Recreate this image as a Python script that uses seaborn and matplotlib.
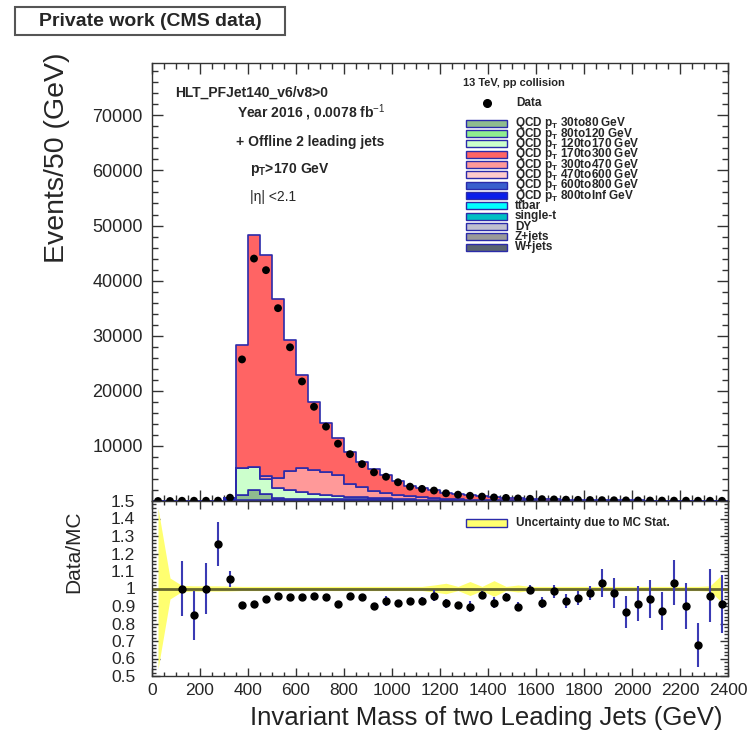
import matplotlib
matplotlib.use('Agg')

import numpy as np
import pandas as pd
import matplotlib.pyplot as plt
from matplotlib.patches import Rectangle
from matplotlib.lines import Line2D
from matplotlib.ticker import MultipleLocator, FuncFormatter
import seaborn as sns

# binning: 50 GeV bins from 0 to 2400
edges = np.arange(0, 2450, 50)
centers = edges[:-1] + 25

data = [0, 0, 45, 50, 48, 65, 600, 25700, 44000, 41900, 35000, 27900, 21700, 17100,
        13500, 10400, 8500, 6700, 5200, 4400, 3400, 2600, 2200, 1900, 1400, 1150, 950,
        800, 650, 560, 470, 400, 340, 290, 245, 210, 180, 155, 135, 115, 100, 85, 75,
        65, 58, 50, 44, 38]

qcd_170to300 = [15, 25, 45, 59, 48, 52, 0, 22300, 42000, 40100, 32400, 23900, 16900,
                12200, 8900, 6700, 5850, 4430, 4000, 3340, 2620, 1950, 1720, 1480, 1130,
                970, 810, 630, 530, 440, 390, 290, 290, 225, 204, 172, 140, 110, 103,
                103, 83, 66, 66, 45, 49, 61, 35, 32]
qcd_300to470 = [0, 0, 0, 0, 0, 0, 0, 0, 0, 500, 1800, 3400, 4300, 4500, 4300, 3800, 2200,
                1900, 1200, 900, 700, 550, 400, 300, 220, 150, 100, 70, 50, 40, 30, 20,
                0, 0, 0, 0, 0, 0, 0, 0, 0, 0, 0, 0, 0, 0, 0, 0]
qcd_120to170 = [0, 0, 0, 0, 0, 0, 0, 4900, 4200, 2800, 1900, 1700, 1300, 900, 700, 600,
                500, 400, 300, 200, 150, 100, 50, 0, 0, 0, 0, 0, 0, 0, 0, 0, 0, 0, 0, 0,
                0, 0, 0, 0, 0, 0, 0, 0, 0, 0, 0, 0]
qcd_30to80 = [0, 0, 0, 0, 0, 0, 0, 1000, 1800, 1000, 200, 0, 0, 0, 0, 0, 0, 0, 0, 0, 0,
              0, 0, 0, 0, 0, 0, 0, 0, 0, 0, 0, 0, 0, 0, 0, 0, 0, 0, 0, 0, 0, 0, 0, 0, 0,
              0, 0]
qcd_800toInf = [0, 0, 0, 0, 0, 0, 570, 100, 200, 200, 300, 300, 300, 300, 300, 300, 300,
                300, 300, 300, 250, 200, 200, 200, 180, 150, 150, 130, 130, 110, 100, 90,
                80, 70, 60, 50, 45, 40, 35, 30, 27, 24, 20, 18, 15, 13, 11, 10]
zeros = [0] * 48
qcd_80to120 = zeros
qcd_470to600 = zeros
qcd_600to800 = zeros
ttbar = zeros
single_t = zeros
dy = zeros
zjets = zeros
wjets = zeros

ratio = [np.nan, np.nan, 1.0, 0.847, 1.0, 1.256, 1.056, 0.907, 0.913, 0.94, 0.955, 0.953,
         0.953, 0.955, 0.953, 0.913, 0.96, 0.953, 0.90, 0.928, 0.915, 0.928, 0.93, 0.96,
         0.915, 0.903, 0.897, 0.965, 0.92, 0.953, 0.897, 0.994, 0.92, 0.983, 0.928, 0.945,
         0.975, 1.033, 0.975, 0.865, 0.913, 0.94, 0.872, 1.033, 0.90, 0.678, 0.96, 0.91]
ratio_err = [0, 0, 0.155, 0.14, 0.145, 0.125, 0.045, 0.006, 0.005, 0.005, 0.006, 0.007,
             0.008, 0.009, 0.01, 0.012, 0.013, 0.015, 0.017, 0.03, 0.02, 0.015, 0.02, 0.03,
             0.025, 0.02, 0.03, 0.02, 0.03, 0.02, 0.025, 0.025, 0.03, 0.035, 0.04, 0.04,
             0.04, 0.08, 0.085, 0.09, 0.1, 0.11, 0.11, 0.13, 0.13, 0.125, 0.15, 0.165]
mc_unc = [0.46, 0.06, 0.017, 0.015, 0.015, 0.015, 0.014, 0.012, 0.012, 0.012, 0.012,
          0.012, 0.012, 0.012, 0.012, 0.012, 0.012, 0.012, 0.012, 0.012, 0.012, 0.012,
          0.012, 0.02, 0.03, 0.012, 0.04, 0.012, 0.045, 0.012, 0.02, 0.012, 0.012, 0.012,
          0.012, 0.012, 0.012, 0.012, 0.012, 0.012, 0.012, 0.012, 0.012, 0.012, 0.012,
          0.012, 0.015, 0.08]

# stacking order: first = top of the stack (seaborn stacks the last level at the bottom)
processes = [
    ('QCD 170to300', qcd_170to300, '#ff6464'),
    ('QCD 300to470', qcd_300to470, '#ff9999'),
    ('QCD 120to170', qcd_120to170, '#ccffcc'),
    ('QCD 80to120', qcd_80to120, '#90ee90'),
    ('QCD 30to80', qcd_30to80, '#8fbc8f'),
    ('QCD 470to600', qcd_470to600, '#ffcccc'),
    ('QCD 600to800', qcd_600to800, '#3a5fcd'),
    ('QCD 800toInf', qcd_800toInf, '#0a1eea'),
    ('ttbar', ttbar, '#00ffff'),
    ('single-t', single_t, '#00bfc4'),
    ('DY', dy, '#c0c0d0'),
    ('Z+jets', zjets, '#999999'),
    ('W+jets', wjets, '#5a6470'),
]
legend_order = ['QCD 30to80', 'QCD 80to120', 'QCD 120to170', 'QCD 170to300',
                'QCD 300to470', 'QCD 470to600', 'QCD 600to800', 'QCD 800toInf',
                'ttbar', 'single-t', 'DY', 'Z+jets', 'W+jets']

df = pd.DataFrame({
    'mass': np.tile(centers, len(processes)),
    'events': np.concatenate([np.asarray(p[1], float) for p in processes]),
    'process': np.repeat([p[0] for p in processes], len(centers)),
})
palette = {p[0]: p[2] for p in processes}

sns.set_style('ticks')
plt.rcParams['font.family'] = ['Liberation Sans', 'DejaVu Sans']
plt.rcParams['mathtext.fontset'] = 'custom'
plt.rcParams['mathtext.rm'] = 'Liberation Sans'
plt.rcParams['mathtext.it'] = 'Liberation Sans:italic'
plt.rcParams['mathtext.bf'] = 'Liberation Sans:bold'

W, H = 750, 735
fx = lambda x: x / W
fy = lambda y: 1 - y / H

fig = plt.figure(figsize=(7.5, 7.35), dpi=100)
ax = fig.add_axes([fx(152), fy(501), fx(728) - fx(152), fy(63) - fy(501)])
rax = fig.add_axes([fx(152), fy(676), fx(728) - fx(152), fy(501) - fy(676)], sharex=ax)

edge = '#2b2baa'
sns.histplot(data=df, x='mass', weights='events', hue='process',
             hue_order=[p[0] for p in processes], palette=palette,
             multiple='stack', bins=edges.tolist(), element='step', alpha=1,
             edgecolor=edge, linewidth=1.2, legend=False, ax=ax)
sns.scatterplot(x=centers, y=data, color='black', s=32, edgecolor='none', zorder=5, ax=ax)

ax.set_xlim(0, 2400)
ax.set_ylim(0, 79500)
ax.set_xlabel('')
ax.set_ylabel('')

# ratio panel
rax.fill_between(centers, 1 - np.array(mc_unc), 1 + np.array(mc_unc), color='#ffff70', lw=0)
rax.axhline(1, color='#66662e', lw=2)
rax.errorbar(centers, ratio, yerr=ratio_err, fmt='o', color='black', ms=5,
             ecolor='#3a3ab4', elinewidth=1.5, capsize=0, zorder=5)
rax.set_ylim(0.5, 1.5)
rax.set_xlim(0, 2400)

for a in (ax, rax):
    for s in a.spines.values():
        s.set_color('#333333')
        s.set_linewidth(1)
    a.tick_params(which='both', direction='in', top=True, right=True, color='#333333')
    a.xaxis.set_major_locator(MultipleLocator(200))
    a.xaxis.set_minor_locator(MultipleLocator(50))

ax.tick_params(which='major', length=8, width=1)
ax.tick_params(which='minor', length=4, width=1)
ax.tick_params(labelbottom=False, labelsize=13, pad=6.5)
ax.yaxis.set_major_locator(MultipleLocator(10000))
ax.yaxis.set_minor_locator(MultipleLocator(2000))
ax.yaxis.set_major_formatter(FuncFormatter(lambda v, p: '' if v <= 0 else '%d' % v))

rax.tick_params(which='major', length=6, width=1)
rax.tick_params(which='minor', length=3, width=1)
rax.yaxis.set_major_locator(MultipleLocator(0.1))
rax.yaxis.set_minor_locator(MultipleLocator(0.02))
rax.yaxis.set_major_formatter(FuncFormatter(lambda v, p: '%g' % round(v, 2)))
rax.tick_params(axis='y', labelsize=12.5, pad=12)
rax.tick_params(axis='x', labelsize=12.5, pad=5)

# axis titles
fig.text(fx(57), fy(158), 'Events/50 (GeV)', rotation=90, fontsize=20.5, ha='center', va='center')
fig.text(fx(74), fy(552), 'Data/MC', rotation=90, fontsize=15, ha='center', va='center')
fig.text(fx(722), fy(718), 'Invariant Mass of two Leading Jets (GeV)', fontsize=18.5,
         ha='right', va='center', color='#222222')

# title box
fig.patches.append(Rectangle((fx(15), fy(35)), fx(285) - fx(15), fy(7) - fy(35),
                             transform=fig.transFigure, fc='white', ec='#555555', lw=1.5))
fig.text(fx(150), fy(21), 'Private work (CMS data)', fontsize=14, weight='bold',
         ha='center', va='center')

# selection text
fig.text(fx(175), fy(93), 'HLT_PFJet140_v6/v8>0', fontsize=10, weight='bold', va='center')
fig.text(fx(237), fy(113), 'Year 2016 , 0.0078 fb$^{-1}$', fontsize=10, weight='bold', va='center')
fig.text(fx(236), fy(142), '+ Offline 2 leading jets', fontsize=10, weight='bold', va='center')
fig.text(fx(250), fy(170), 'p$_\\mathregular{T}$>170 GeV', fontsize=10, weight='bold', va='center')
fig.text(fx(250), fy(197), '|η| <2.1', fontsize=10, va='center')
fig.text(fx(463), fy(83), '13 TeV, pp collision', fontsize=8, weight='bold', va='center')

# legend (drawn by hand, ROOT style)
fig.lines.append(Line2D([fx(487)], [fy(103)], marker='o', color='black', ms=5.5,
                        transform=fig.transFigure))
fig.text(fx(516), fy(103), 'Data', fontsize=8.5, weight='bold', va='center')
for i, name in enumerate(legend_order):
    yc = 123.3 + 10.33 * i
    fig.patches.append(Rectangle((fx(466), fy(yc + 3.5)), fx(507) - fx(466), 7 / H,
                                 transform=fig.transFigure, fc=palette[name], ec=edge, lw=1))
    label = name
    if name.startswith('QCD'):
        label = 'QCD p$_\\mathregular{T}$ ' + name.split()[1] + ' GeV'
    fig.text(fx(515), fy(yc), label, fontsize=8.5, weight='bold', va='center')

fig.patches.append(Rectangle((fx(466), fy(527)), fx(507) - fx(466), 8 / H,
                             transform=fig.transFigure, fc='#ffff70', ec=edge, lw=1))
fig.text(fx(516), fy(523), 'Uncertainty due to MC Stat.', fontsize=8.5, weight='bold', va='center')

fig.savefig('out.png', dpi=100)
